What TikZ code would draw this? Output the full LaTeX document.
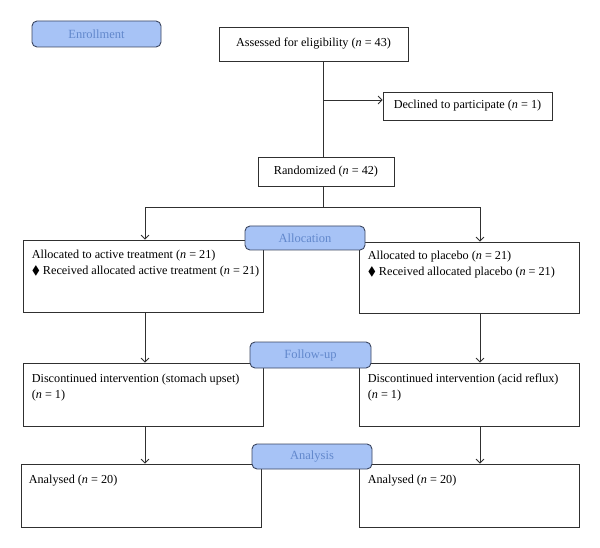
\documentclass[tikz,border=0pt]{standalone}
\usepackage{fontspec}
\setmainfont{Liberation Serif}
\usepackage{amssymb}
\usetikzlibrary{positioning, arrows.meta, calc}
\definecolor{tagfill}{HTML}{A7C3F6}
\definecolor{tagdraw}{HTML}{3B4660}
\definecolor{tagtext}{HTML}{6288CC}
\definecolor{edge}{HTML}{303030}
\tikzset{
  box/.style={draw=edge, line width=0.8pt, inner sep=0pt},
  tag/.style={draw=tagdraw, fill=tagfill, text=tagtext, rounded corners=5pt, line width=0.9pt, inner sep=0pt, font=\fontsize{12.5}{14}\selectfont},
  txt/.style={anchor=base west, inner sep=0pt, align=left, font=\fontsize{12.2}{15.5}\selectfont},
  ctxt/.style={inner sep=0pt, font=\fontsize{12.2}{14}\selectfont},
  line/.style={draw=edge, line width=0.8pt},
  arrow/.style={line, -{Straight Barb[length=4pt, width=8pt]}}
}

\begin{document}
\begin{tikzpicture}[x=1pt, y=-1pt]
            \useasboundingbox (0,0) rectangle (600,548);

            \coordinate (cm) at (323,0);
            \coordinate (cl) at (145,0);
            \coordinate (cr) at (480,0);
            \coordinate (branch) at (323,100);
            \coordinate (split) at (323,207);

            \node[box, minimum width=189, minimum height=34] (assess) at (313.5,44) {};
            \node[ctxt] at (assess) {Assessed for eligibility (\textit{n} = 43)};
            \node[box, minimum width=169, minimum height=28] (decl) at (467.5,106) {};
            \node[ctxt] at (decl) {Declined to participate (\textit{n} = 1)};
            \node[box, minimum width=136, minimum height=29] (rand) at (326,171.5) {};
            \node[ctxt] at (rand) {Randomized (\textit{n} = 42)};

            \node[box, minimum width=240, minimum height=72] (la) at (143,276) {};
            \node[box, minimum width=220, minimum height=71] (ra) at (469,277.5) {};
            \node[box, minimum width=240, minimum height=63] (ld) at (143,394.5) {};
            \node[box, minimum width=220, minimum height=63] (rd) at (469,394.5) {};
            \node[box, minimum width=240, minimum height=63] (lan) at (141,495.5) {};
            \node[box, minimum width=220, minimum height=63] (ran) at (469,495.5) {};

            \node[txt] at ($(la.north west)+(9,34.5)$) {Allocated to active treatment (\textit{n} = 21)\\$\blacklozenge$ Received allocated active treatment (\textit{n} = 21)};
            \node[txt] at ($(ra.north west)+(9,33.5)$) {Allocated to placebo (\textit{n} = 21)\\$\blacklozenge$ Received allocated placebo (\textit{n} = 21)};
            \node[txt] at ($(ld.north west)+(9,35.5)$) {Discontinued intervention (stomach upset)\\(\textit{n} = 1)};
            \node[txt] at ($(rd.north west)+(9,35.5)$) {Discontinued intervention (acid reflux)\\(\textit{n} = 1)};
            \node[txt] at ($(lan.north west)+(8,20)$) {Analysed (\textit{n} = 20)};
            \node[txt] at ($(ran.north west)+(9,20)$) {Analysed (\textit{n} = 20)};

            \draw[line] (cm |- assess.south) -- (cm |- rand.north);
            \draw[arrow] (branch) -- (branch -| decl.west);
            \draw[line] (cm |- rand.south) -- (split);
            \draw[arrow] (split) -| (cl |- la.north);
            \draw[arrow] (split) -| (cr |- ra.north);
            \draw[arrow] (cl |- la.south) -- (cl |- ld.north);
            \draw[arrow] (cr |- ra.south) -- (cr |- rd.north);
            \draw[arrow] (cl |- ld.south) -- (cl |- lan.north);
            \draw[arrow] (cr |- rd.south) -- (cr |- ran.north);

            \node[tag, minimum width=129, minimum height=26] (enroll) at (96.5,34) {Enrollment};
            \node[tag, minimum width=120, minimum height=24] (alloc) at (305,238) {Allocation};
            \node[tag, minimum width=121, minimum height=26] (follow) at (310.5,355) {Follow-up};
            \node[tag, minimum width=120, minimum height=25] (analysis) at (312,456.5) {Analysis};
\end{tikzpicture}
\end{document}
